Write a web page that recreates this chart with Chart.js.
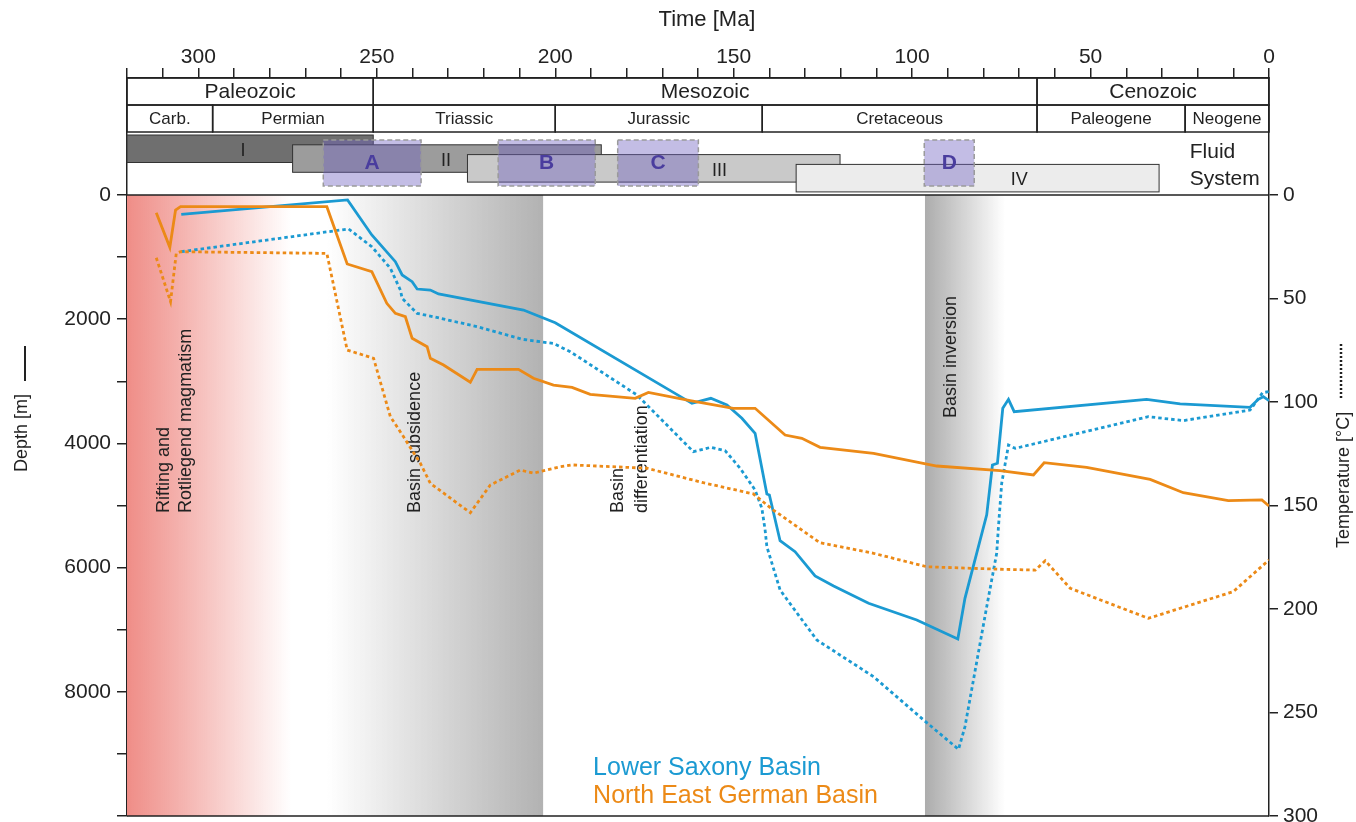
<!DOCTYPE html>
<html>
<head>
<meta charset="utf-8">
<title>Burial and temperature history</title>
<script src="https://cdn.jsdelivr.net/npm/chart.js@4.4.1/dist/chart.umd.min.js"></script>
<style>
  html, body { margin: 0; padding: 0; background: #fff; }
  #wrap { width: 1356px; height: 822px; position: relative; }
</style>
</head>
<body>
<div id="wrap"><canvas id="chart"></canvas></div>
<script>
// ---- data (ages in Ma) ----
const lsbDepthAge = [304.8, 258.2, 251.4, 244.8, 242.9, 240.1, 238.7, 235, 232.7, 208.9, 204.2, 200, 161.7, 156.4, 151.9, 147.7, 144, 140.7, 140, 137, 132.8, 127.2, 122, 112.2, 98.7, 87.2, 85.2, 79.1, 77.5, 76.1, 74.6, 73, 71.4, 34.3, 24.9, 5.3, 3, 1.6, 0];
const lsbDepth    = [311, 80, 644, 1074, 1288, 1396, 1514, 1530, 1594, 1852, 1960, 2056, 3355, 3274, 3382, 3596, 3838, 4815, 4831, 5567, 5744, 6135, 6296, 6575, 6844, 7150, 6495, 5150, 4348, 4321, 3435, 3290, 3489, 3290, 3365, 3419, 3290, 3248, 3312];

const lsbTempAge = [304.8, 257.9, 251.4, 246.2, 243.4, 242.9, 238.7, 234.1, 221.9, 209.3, 204.2, 200.5, 195.8, 177.1, 161.3, 156.4, 152.4, 148.2, 144, 142.1, 141.2, 140.7, 137, 126.7, 110.8, 96.8, 87, 85.2, 79.1, 76.3, 75.8, 74.9, 73, 71.1, 33.8, 24, 5.3, 1.8, 0];
const lsbTemp    = [27.4, 16.4, 25, 35.4, 45.9, 49.9, 57.2, 58.8, 63.6, 69.7, 70.9, 71.7, 75.7, 96.6, 124, 121.9, 123.5, 132, 142.5, 151.4, 161.8, 169.9, 190.8, 215, 232.7, 253.6, 267.8, 256.9, 198.9, 173, 160, 139.3, 120.8, 122.4, 107.1, 109, 103.9, 95.5, 95];

const negbDepthAge = [311.8, 308, 306.4, 305, 264, 258.3, 251.4, 247.2, 244.8, 242, 240.1, 235.9, 235, 231.3, 223.8, 221.9, 210.3, 206.1, 200.5, 195.3, 190.2, 177.6, 173.9, 162.2, 150.1, 144, 135.6, 130.9, 125.8, 110.8, 93.1, 75.4, 66, 63, 51.1, 33.3, 24, 11.4, 2, 0];
const negbDepth    = [285, 842, 242, 188, 188, 1111, 1235, 1744, 1905, 1960, 2308, 2443, 2630, 2738, 3016, 2807, 2807, 2952, 3060, 3097, 3210, 3274, 3178, 3312, 3435, 3435, 3865, 3918, 4063, 4160, 4364, 4440, 4509, 4311, 4385, 4579, 4794, 4923, 4911, 5008];

const negbTempAge = [311.8, 307.8, 306.2, 305, 264, 258.3, 250.9, 246.2, 242.5, 237.8, 235, 223.8, 218.2, 209.8, 206.1, 198.6, 195.3, 174.3, 158.5, 144.5, 138.9, 125.8, 110.8, 95.9, 75.4, 65.5, 62.7, 55.7, 33.8, 10, 0];
const negbTemp    = [30.3, 51.5, 28.2, 27.4, 28.2, 74.9, 78.9, 107.1, 116.8, 129.6, 139.3, 153.5, 140.1, 132.9, 134.4, 131.3, 130.4, 132, 139, 144.4, 152.2, 168, 173.1, 179.6, 180.8, 181.2, 176.7, 190, 204.5, 191.6, 176.3];

const eraNames  = ["Paleozoic", "Mesozoic", "Cenozoic"];
const eraBounds = [320, 251, 65, 0];
const periodNames  = ["Carb.", "Permian", "Triassic", "Jurassic", "Cretaceous", "Paleogene", "Neogene"];
const periodBounds = [320, 296, 251, 200, 142, 65, 23.5, 0];

const fluidNames = ["I", "II", "III", "IV"];
const fluidStart = [320, 273.6, 224.6, 132.5];
const fluidEnd   = [251, 187.1, 120.2, 30.8];
const fluidMid   = [287.5, 230.6, 154, 70];

const windowNames = ["A", "B", "C", "D"];
const windowStart = [265, 216, 182.5, 96.6];
const windowEnd   = [237.6, 188.8, 159.9, 82.6];

const riftBand       = [320, 274];
const subsidenceBand = [264, 203.4];
const inversionBand  = [96.4, 74];

const seriesNames = ["Lower Saxony Basin", "North East German Basin"];

// ---- styling ----
const INK = "#222222";
const FONT = "'Liberation Sans', Arial, Helvetica, sans-serif";
const BLUE = "#1b9ad2";
const ORANGE = "#ec8a17";
const fluidFill = ["#6f6f6f", "#9c9c9c", "#c9c9c9", "#ececec"];

Chart.defaults.font.family = FONT;
Chart.defaults.color = INK;

const toXY = (ages, vals) => ages.map((a, i) => ({ x: a, y: vals[i] }));
const range = (a, b, s) => { const r = []; for (let v = a; v <= b; v += s) r.push({ value: v }); return r; };
const noPad = s => { s.paddingTop = 0; s.paddingBottom = 0; s.paddingLeft = 0; s.paddingRight = 0; };

function vtext(ctx, s, x, y, size) {
  ctx.save();
  ctx.translate(x, y);
  ctx.rotate(-Math.PI / 2);
  ctx.font = `${size}px ${FONT}`;
  ctx.textAlign = "left";
  ctx.textBaseline = "middle";
  ctx.fillText(s, 0, 0);
  ctx.restore();
}

const decor = {
  id: "decor",
  beforeDatasetsDraw(chart) {
    const { ctx, chartArea: ca, scales } = chart;
    const x = scales.x, y = scales.y;
    const px = a => x.getPixelForValue(a);
    const yTop = y.getPixelForValue(0), yBot = y.getPixelForValue(10000);
    ctx.save();

    function band(r, c0, c1) {
      const xa = px(r[0]), xb = px(r[1]);
      const g = ctx.createLinearGradient(xa, 0, xb, 0);
      g.addColorStop(0, c0); g.addColorStop(1, c1);
      ctx.fillStyle = g;
      ctx.fillRect(xa, yTop, xb - xa, yBot - yTop);
    }
    band(riftBand, "rgba(239,141,135,1)", "rgba(239,141,135,0)");
    band(subsidenceBand, "rgba(178,178,178,0)", "rgba(178,178,178,1)");
    band(inversionBand, "rgba(172,172,172,1)", "rgba(172,172,172,0)");

    // time scale boxes
    const r0 = ca.top, r1 = ca.top + 27, r2 = ca.top + 54;
    ctx.strokeStyle = INK; ctx.lineWidth = 1.5; ctx.fillStyle = INK;
    ctx.textAlign = "center"; ctx.textBaseline = "middle";
    ctx.font = `21px ${FONT}`;
    eraNames.forEach((n, i) => {
      const xa = px(eraBounds[i]), xb = px(eraBounds[i + 1]);
      ctx.strokeRect(xa, r0, xb - xa, r1 - r0);
      ctx.fillText(n, (xa + xb) / 2, (r0 + r1) / 2 + 1);
    });
    ctx.font = `17px ${FONT}`;
    periodNames.forEach((n, i) => {
      const xa = px(periodBounds[i]), xb = px(periodBounds[i + 1]);
      ctx.strokeRect(xa, r1, xb - xa, r2 - r1);
      ctx.fillText(n, (xa + xb) / 2, (r1 + r2) / 2 + 1);
    });

    // fluid systems
    ctx.lineWidth = 1;
    fluidNames.forEach((n, i) => {
      const xa = px(fluidStart[i]), xb = px(fluidEnd[i]);
      const t = r2 + 3 + i * 9.8;
      ctx.fillStyle = fluidFill[i];
      ctx.fillRect(xa, t, xb - xa, 27.5);
      ctx.strokeStyle = "#333";
      ctx.strokeRect(xa, t, xb - xa, 27.5);
    });
    ctx.fillStyle = INK; ctx.font = `18px ${FONT}`;
    fluidNames.forEach((n, i) => {
      ctx.fillText(n, px(fluidMid[i]), r2 + 3 + i * 9.8 + 16);
    });

    // sampling windows
    windowNames.forEach((n, i) => {
      const xa = px(windowStart[i]), xb = px(windowEnd[i]);
      ctx.fillStyle = "rgba(112,98,192,0.42)";
      ctx.fillRect(xa, r2 + 8, xb - xa, 46);
      ctx.setLineDash([5, 3]);
      ctx.strokeStyle = "#9a9a9a"; ctx.lineWidth = 1.5;
      ctx.strokeRect(xa, r2 + 8, xb - xa, 46);
      ctx.setLineDash([]);
      ctx.fillStyle = "#4a3d9e"; ctx.font = `bold 21px ${FONT}`;
      ctx.fillText(n, (xa + xb) / 2, r2 + 31);
    });

    ctx.fillStyle = INK; ctx.textAlign = "left"; ctx.font = `21px ${FONT}`;
    ctx.fillText("Fluid", px(22.2), r2 + 20);
    ctx.fillText("System", px(22.2), r2 + 47);

    // phase notes
    ctx.fillStyle = INK;
    vtext(ctx, "Rifting and", px(309.5), y.getPixelForValue(5120), 18);
    vtext(ctx, "Rotliegend magmatism", px(303.4), y.getPixelForValue(5120), 18);
    vtext(ctx, "Basin subsidence", px(239.2), y.getPixelForValue(5120), 18);
    vtext(ctx, "Basin", px(182.4), y.getPixelForValue(5120), 18);
    vtext(ctx, "differentiation", px(175.8), y.getPixelForValue(5120), 18);
    vtext(ctx, "Basin inversion", px(89.1), y.getPixelForValue(3590), 18);

    // plot frame lines
    ctx.strokeStyle = INK; ctx.lineWidth = 1.5;
    ctx.beginPath();
    ctx.moveTo(px(320), yTop); ctx.lineTo(px(0), yTop);
    ctx.moveTo(px(320), yBot); ctx.lineTo(px(0), yBot);
    ctx.stroke();
    ctx.restore();
  },
  afterDraw(chart) {
    const { ctx, scales } = chart;
    const x = scales.x, y = scales.y;
    ctx.save();
    ctx.font = `25px ${FONT}`; ctx.textAlign = "left"; ctx.textBaseline = "middle";
    ctx.fillStyle = BLUE;
    ctx.fillText(seriesNames[0], x.getPixelForValue(189.4), y.getPixelForValue(9230));
    ctx.fillStyle = ORANGE;
    ctx.fillText(seriesNames[1], x.getPixelForValue(189.4), y.getPixelForValue(9680));

    // time axis title
    ctx.fillStyle = INK; ctx.font = `22px ${FONT}`; ctx.textAlign = "center";
    ctx.fillText("Time [Ma]", 707, 20);

    // axis titles with line keys
    vtext(ctx, "Depth [m]", 22, 472, 18);
    ctx.strokeStyle = INK; ctx.lineWidth = 2;
    ctx.beginPath(); ctx.moveTo(25, 381); ctx.lineTo(25, 346); ctx.stroke();
    vtext(ctx, "Temperature [°C]", 1344, 548, 18);
    ctx.lineWidth = 2.5;
    ctx.setLineDash([2, 2]);
    ctx.beginPath(); ctx.moveTo(1341, 398); ctx.lineTo(1341, 343); ctx.stroke();
    ctx.restore();
  }
};

const lineBase = { pointRadius: 0, tension: 0, borderWidth: 2.8, fill: false, xAxisID: "x" };

new Chart(document.getElementById("chart"), {
  type: "line",
  data: {
    datasets: [
      { ...lineBase, label: seriesNames[1] + " depth", data: toXY(negbDepthAge, negbDepth), borderColor: ORANGE, yAxisID: "y" },
      { ...lineBase, label: seriesNames[1] + " temperature", data: toXY(negbTempAge, negbTemp), borderColor: ORANGE, borderDash: [3.5, 3], yAxisID: "y2" },
      { ...lineBase, label: seriesNames[0] + " depth", data: toXY(lsbDepthAge, lsbDepth), borderColor: BLUE, yAxisID: "y" },
      { ...lineBase, label: seriesNames[0] + " temperature", data: toXY(lsbTempAge, lsbTemp), borderColor: BLUE, borderDash: [3.5, 3], yAxisID: "y2" }
    ]
  },
  options: {
    responsive: true,
    maintainAspectRatio: false,
    animation: false,
    layout: { padding: { top: 0, left: 0, right: 0, bottom: 6 } },
    plugins: { legend: { display: false }, tooltip: { enabled: false } },
    scales: {
      x: {
        type: "linear", position: "top", min: 0, max: 320, reverse: true,
        afterBuildTicks: s => { s.ticks = range(0, 320, 10); },
        afterFit: s => { s.height = 78; noPad(s); },
        ticks: {
          autoSkip: false, maxRotation: 0, padding: 0, color: INK,
          font: { size: 21, lineHeight: 1 },
          callback: v => (v % 50 === 0 ? String(v) : "")
        },
        grid: { drawOnChartArea: false, tickLength: 10, color: INK, lineWidth: 1.5 },
        border: { color: INK, width: 1.5 }
      },
      y: {
        type: "linear", position: "left", min: -1884.1, max: 10000, reverse: true,
        afterBuildTicks: s => { s.ticks = range(0, 10000, 1000); },
        afterFit: s => { s.width = 127; noPad(s); },
        ticks: {
          autoSkip: false, padding: 6, color: INK, font: { size: 21 },
          callback: v => (v % 2000 === 0 && v < 10000 ? String(v) : "")
        },
        grid: { drawOnChartArea: false, tickLength: 10, color: INK, lineWidth: 1.5 },
        border: { color: INK, width: 1.5 }
      },
      y2: {
        type: "linear", position: "right", min: -56.52, max: 300, reverse: true,
        afterBuildTicks: s => { s.ticks = range(0, 300, 50); },
        afterFit: s => { s.width = 87; noPad(s); },
        ticks: { autoSkip: false, padding: 5, color: INK, font: { size: 21 } },
        grid: { drawOnChartArea: false, tickLength: 9, color: INK, lineWidth: 1.5 },
        border: { color: INK, width: 1.5 }
      }
    }
  },
  plugins: [decor]
});
</script>
</body>
</html>
